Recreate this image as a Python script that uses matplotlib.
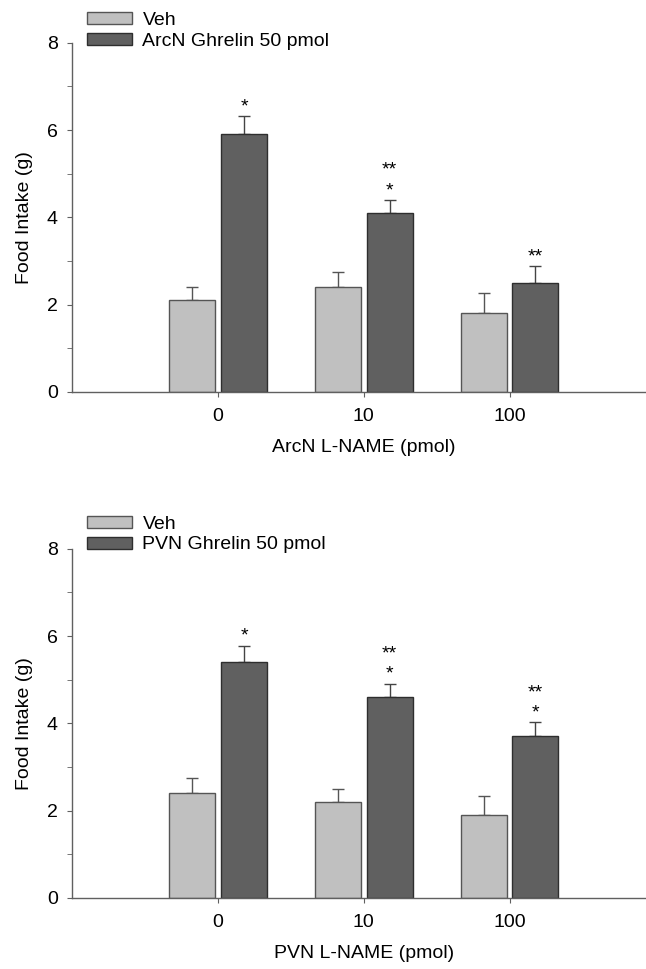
import numpy as np
import matplotlib
matplotlib.use('Agg')
import matplotlib.pyplot as plt
from matplotlib.ticker import MultipleLocator

plt.rcParams['font.family'] = ['Liberation Sans', 'DejaVu Sans']

doses = ['0', '10', '100']
veh_label = 'Veh'

# top panel: ArcN
arc_veh = [2.1, 2.4, 1.8]
arc_veh_sem = [0.30, 0.34, 0.46]
arc_ghr = [5.9, 4.1, 2.5]
arc_ghr_sem = [0.42, 0.30, 0.38]
arc_sig = [['*'], ['*', '**'], ['**']]

# bottom panel: PVN
pvn_veh = [2.4, 2.2, 1.9]
pvn_veh_sem = [0.34, 0.30, 0.43]
pvn_ghr = [5.4, 4.6, 3.7]
pvn_ghr_sem = [0.38, 0.31, 0.32]
pvn_sig = [['*'], ['*', '**'], ['*', '**']]

VEH_C = '#c0c0c0'
GHR_C = '#606060'
AX_C = '#606060'
FS = 14


def draw_panel(ax, veh, veh_sem, ghr, ghr_sem, sig, ghr_label, xlabel, leg_y):
    x = np.arange(1, len(doses) + 1)
    w = 0.316
    off = 0.178
    ax.bar(x - off, veh, w, color=VEH_C, edgecolor='#555555', linewidth=1.0,
           label=veh_label, zorder=2)
    ax.bar(x + off, ghr, w, color=GHR_C, edgecolor='#2e2e2e', linewidth=1.0,
           label=ghr_label, zorder=2)
    ax.errorbar(x - off, veh, yerr=[np.zeros(len(veh)), veh_sem], fmt='none',
                ecolor='#555555', elinewidth=1.0, capsize=4.3, capthick=1.0, zorder=1)
    ax.errorbar(x + off, ghr, yerr=[np.zeros(len(ghr)), ghr_sem], fmt='none',
                ecolor='#444444', elinewidth=1.0, capsize=4.3, capthick=1.0, zorder=1)

    # significance marks above the ghrelin bars
    row_off = [3.4, 18.0]
    for xi, v, s, marks in zip(x + off, ghr, ghr_sem, sig):
        for r, m in enumerate(marks):
            ax.annotate(m, xy=(xi, v + s), xytext=(0, row_off[r]),
                        textcoords='offset points', ha='center', va='baseline',
                        fontsize=14, color='black')

    ax.set_xlim(0, 4)
    ax.set_ylim(0, 8)
    ax.set_xticks(x)
    ax.set_xticklabels(doses)
    ax.yaxis.set_major_locator(MultipleLocator(2))
    ax.yaxis.set_minor_locator(MultipleLocator(1))
    for side in ['top', 'right']:
        ax.spines[side].set_visible(False)
    for side in ['left', 'bottom']:
        ax.spines[side].set_color(AX_C)
        ax.spines[side].set_linewidth(1.0)
    ax.tick_params(axis='y', which='both', direction='out', length=3.6,
                   color=AX_C, labelsize=FS, pad=7)
    ax.tick_params(axis='x', which='major', direction='out', length=3.6,
                   color=AX_C, labelsize=FS, pad=8)
    ax.tick_params(axis='x', which='minor', length=0)
    ax.set_ylabel('Food Intake (g)', fontsize=FS)
    ax.yaxis.set_label_coords(-0.068, 0.5)
    ax.set_xlabel(xlabel, fontsize=FS, labelpad=10)
    ax.legend(loc='upper left', bbox_to_anchor=(0.025, leg_y), frameon=False,
              fontsize=FS, handlelength=2.3, handleheight=0.56,
              handletextpad=0.55, labelspacing=0.2, borderpad=0,
              borderaxespad=0)


fig = plt.figure(figsize=(6.46, 9.69), dpi=100)
ax1 = fig.add_axes([0.1122, 0.5955, 0.902, 0.3604])
ax2 = fig.add_axes([0.1122, 0.0733, 0.902, 0.3604])

draw_panel(ax1, arc_veh, arc_veh_sem, arc_ghr, arc_ghr_sem, arc_sig,
           'ArcN Ghrelin 50 pmol', 'ArcN L-NAME (pmol)', 1.089)
draw_panel(ax2, pvn_veh, pvn_veh_sem, pvn_ghr, pvn_ghr_sem, pvn_sig,
           'PVN Ghrelin 50 pmol', 'PVN L-NAME (pmol)', 1.095)

fig.savefig('out.png', dpi=100)
